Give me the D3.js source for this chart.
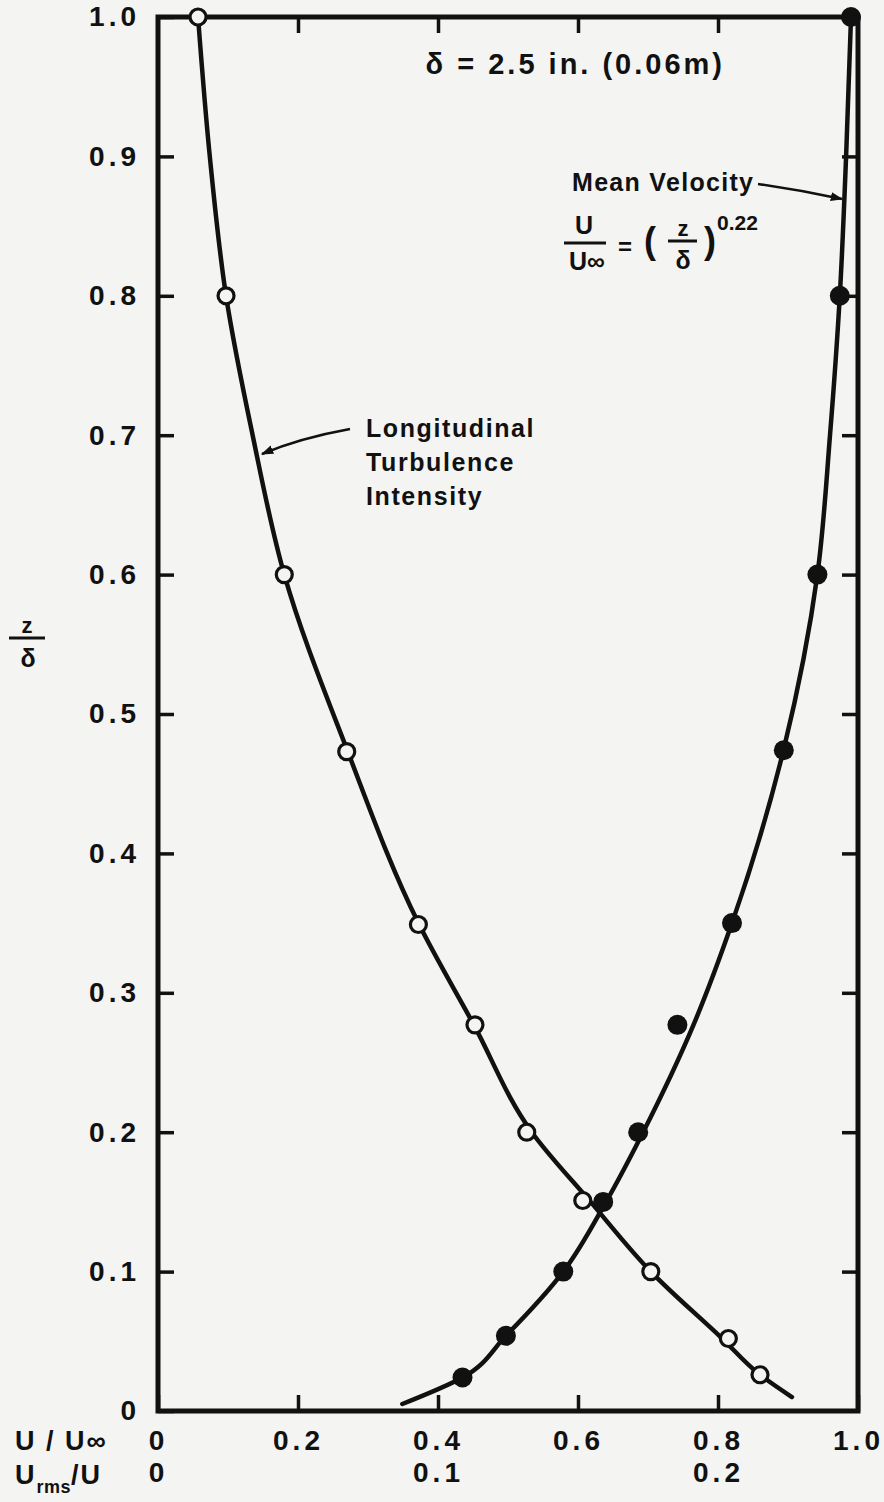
<!DOCTYPE html>
<html>
<head>
<meta charset="utf-8">
<script src="https://cdn.jsdelivr.net/npm/d3@7"></script>
<style>
  body { margin: 0; background: #f4f4f2; }
  svg text { font-family: "Liberation Sans", Arial, sans-serif; font-weight: bold; fill: #111; }
</style>
</head>
<body>
<div id="chart"></div>
<script>
// z/delta values of the measured points
const zMean = [1.0, 0.8, 0.6, 0.474, 0.35, 0.277, 0.2, 0.15, 0.1, 0.054, 0.024];
const uMean = [0.99, 0.974, 0.942, 0.894, 0.820, 0.742, 0.686, 0.636, 0.579, 0.497, 0.435];

const zTurb = [1.0, 0.8, 0.6, 0.473, 0.349, 0.277, 0.2, 0.151, 0.1, 0.052, 0.026];
const urmsTurb = [0.0143, 0.0243, 0.0451, 0.0674, 0.0930, 0.1132, 0.1317, 0.1517, 0.176, 0.2037, 0.215];

// faired curves
const zMeanCurve = [0.005, 0.024, 0.054, 0.1, 0.15, 0.2, 0.277, 0.35, 0.475, 0.6, 0.7, 0.8, 0.9, 1.0];
const uMeanCurve = [0.349, 0.435, 0.497, 0.579, 0.640, 0.693, 0.765, 0.820, 0.894, 0.942, 0.960, 0.974, 0.983, 0.99];

const zTurbCurve = [1.0, 0.9, 0.8, 0.7, 0.6, 0.475, 0.35, 0.277, 0.2, 0.15, 0.1, 0.052, 0.026, 0.010];
const urmsTurbCurve = [0.0143, 0.0185, 0.0243, 0.0338, 0.0451, 0.0674, 0.0930, 0.1128, 0.1335, 0.1545, 0.1760, 0.2015, 0.2150, 0.2264];

// axis ticks
const zTicks = [0, 0.1, 0.2, 0.3, 0.4, 0.5, 0.6, 0.7, 0.8, 0.9, 1.0];
const uTicks = [0, 0.2, 0.4, 0.6, 0.8, 1.0];
const urmsTicks = [0, 0.1, 0.2];

const ink = "#111";
const paper = "#f4f4f2";

const margin = {top: 17, right: 26, bottom: 91, left: 158},
    width = 884 - margin.left - margin.right,
    height = 1502 - margin.top - margin.bottom;

const svg = d3.select("#chart")
  .append("svg")
    .attr("width", width + margin.left + margin.right)
    .attr("height", height + margin.top + margin.bottom)
  .append("g")
    .attr("transform", `translate(${margin.left},${margin.top})`);

const x = d3.scaleLinear().domain([0, 1]).range([0, width]);
const xr = d3.scaleLinear().domain([0, 0.25]).range([0, width]);
const y = d3.scaleLinear().domain([0, 1]).range([height, 0]);

const fmt = d => d === 0 ? "0" : d.toFixed(1);

function styleAxis(g, showText) {
  g.select(".domain").remove();
  g.selectAll(".tick line").attr("stroke", ink).attr("stroke-width", 3.5);
  g.selectAll(".tick text")
    .style("font-size", "28px")
    .style("letter-spacing", "4px")
    .attr("fill", ink);
  if (!showText) g.selectAll(".tick text").remove();
}

// left axis
svg.append("g")
  .call(d3.axisLeft(y).tickValues(zTicks).tickFormat(fmt).tickSize(-16).tickPadding(18))
  .call(g => styleAxis(g, true));

// right axis
svg.append("g")
  .attr("transform", `translate(${width},0)`)
  .call(d3.axisRight(y).tickValues(zTicks.slice(1, -1)).tickSize(-16))
  .call(g => styleAxis(g, false));

// top axis
svg.append("g")
  .call(d3.axisTop(x).tickValues(uTicks.slice(1, -1)).tickSize(-16))
  .call(g => styleAxis(g, false));

// bottom axis U/Uinf
svg.append("g")
  .attr("transform", `translate(0,${height})`)
  .call(d3.axisBottom(x).tickValues(uTicks).tickFormat(fmt).tickSize(-16).tickPadding(19))
  .call(g => styleAxis(g, true));

// bottom axis Urms/U (labels only)
svg.append("g")
  .attr("transform", `translate(0,${height})`)
  .call(d3.axisBottom(xr).tickValues(urmsTicks).tickFormat(fmt).tickSize(0).tickPadding(51))
  .call(g => styleAxis(g, true));

// frame
svg.append("rect")
  .attr("x", 0).attr("y", 0)
  .attr("width", width).attr("height", height)
  .attr("fill", "none")
  .attr("stroke", ink)
  .attr("stroke-width", 5);

// curves
const meanLine = d3.line()
  .x((d, i) => x(uMeanCurve[i]))
  .y(d => y(d))
  .curve(d3.curveMonotoneY);

const turbLine = d3.line()
  .x((d, i) => xr(urmsTurbCurve[i]))
  .y(d => y(d))
  .curve(d3.curveMonotoneY);

svg.append("path")
  .attr("d", meanLine(zMeanCurve))
  .attr("fill", "none").attr("stroke", ink).attr("stroke-width", 4.5)
  .attr("stroke-linecap", "round");

svg.append("path")
  .attr("d", turbLine(zTurbCurve))
  .attr("fill", "none").attr("stroke", ink).attr("stroke-width", 4.5)
  .attr("stroke-linecap", "round");

// points
svg.selectAll(".mean-pt")
  .data(zMean)
  .enter().append("circle")
    .attr("class", "mean-pt")
    .attr("cx", (d, i) => x(uMean[i]))
    .attr("cy", d => y(d))
    .attr("r", 10)
    .attr("fill", ink);

svg.selectAll(".turb-pt")
  .data(zTurb)
  .enter().append("circle")
    .attr("class", "turb-pt")
    .attr("cx", (d, i) => xr(urmsTurb[i]))
    .attr("cy", d => y(d))
    .attr("r", 8)
    .attr("fill", paper)
    .attr("stroke", ink)
    .attr("stroke-width", 3.2);

// annotations (page coordinates)
const page = d3.select("svg");

page.append("defs").append("marker")
  .attr("id", "arrow")
  .attr("viewBox", "0 0 10 10")
  .attr("refX", 9).attr("refY", 5)
  .attr("markerWidth", 5).attr("markerHeight", 5)
  .attr("orient", "auto")
  .append("path")
    .attr("d", "M0,1.5 L10,5 L0,8.5 Z")
    .attr("fill", ink);

page.append("text")
  .attr("x", 725).attr("y", 74)
  .attr("text-anchor", "end")
  .style("font-size", "29px")
  .style("letter-spacing", "3px")
  .text("δ = 2.5 in. (0.06m)");

page.append("text")
  .attr("x", 572).attr("y", 191)
  .style("font-size", "25px")
  .style("letter-spacing", "1.3px")
  .text("Mean Velocity");

page.append("path")
  .attr("d", "M758,184 Q800,190 842,199")
  .attr("fill", "none").attr("stroke", ink).attr("stroke-width", 2.5)
  .attr("marker-end", "url(#arrow)");

// U/Uinf = (z/delta)^0.22
page.append("text").attr("x", 584).attr("y", 234).attr("text-anchor", "middle")
  .style("font-size", "25px").text("U");
page.append("line").attr("x1", 564).attr("x2", 606).attr("y1", 243).attr("y2", 243)
  .attr("stroke", ink).attr("stroke-width", 3);
page.append("text").attr("x", 587).attr("y", 270).attr("text-anchor", "middle")
  .style("font-size", "25px").text("U∞");
page.append("text").attr("x", 625).attr("y", 255).attr("text-anchor", "middle")
  .style("font-size", "24px").text("=");
page.append("text").attr("x", 650).attr("y", 253).attr("text-anchor", "middle")
  .style("font-size", "36px").text("(");
page.append("text").attr("x", 683).attr("y", 236).attr("text-anchor", "middle")
  .style("font-size", "22px").text("z");
page.append("line").attr("x1", 668).attr("x2", 697).attr("y1", 241).attr("y2", 241)
  .attr("stroke", ink).attr("stroke-width", 3);
page.append("text").attr("x", 683).attr("y", 269).attr("text-anchor", "middle")
  .style("font-size", "25px").text("δ");
page.append("text").attr("x", 710).attr("y", 253).attr("text-anchor", "middle")
  .style("font-size", "36px").text(")");
page.append("text").attr("x", 717).attr("y", 230)
  .style("font-size", "21px").text("0.22");

// turbulence label
const turbLabel = ["Longitudinal", "Turbulence", "Intensity"];
page.selectAll(".turb-label")
  .data(turbLabel)
  .enter().append("text")
    .attr("class", "turb-label")
    .attr("x", 366)
    .attr("y", (d, i) => 437 + i * 34)
    .style("font-size", "25px")
    .style("letter-spacing", "1.6px")
    .text(d => d);

page.append("path")
  .attr("d", "M350,429 Q300,438 262,454")
  .attr("fill", "none").attr("stroke", ink).attr("stroke-width", 2.5)
  .attr("marker-end", "url(#arrow)");

// y axis title z/delta
page.append("text").attr("x", 27).attr("y", 633).attr("text-anchor", "middle")
  .style("font-size", "22px").text("z");
page.append("line").attr("x1", 9).attr("x2", 45).attr("y1", 638).attr("y2", 638)
  .attr("stroke", ink).attr("stroke-width", 3);
page.append("text").attr("x", 28).attr("y", 667).attr("text-anchor", "middle")
  .style("font-size", "25px").text("δ");

// x axis titles
page.append("text").attr("x", 15).attr("y", 1450)
  .style("font-size", "27px").style("letter-spacing", "2px")
  .text("U / U∞");

const urmsTitle = page.append("text").attr("x", 15).attr("y", 1484)
  .style("font-size", "27px").style("letter-spacing", "2px");
urmsTitle.append("tspan").text("U");
urmsTitle.append("tspan").attr("dy", 9).style("font-size", "18px").style("letter-spacing", "0.5px").text("rms");
urmsTitle.append("tspan").attr("dy", -9).text("/U");
</script>
</body>
</html>
